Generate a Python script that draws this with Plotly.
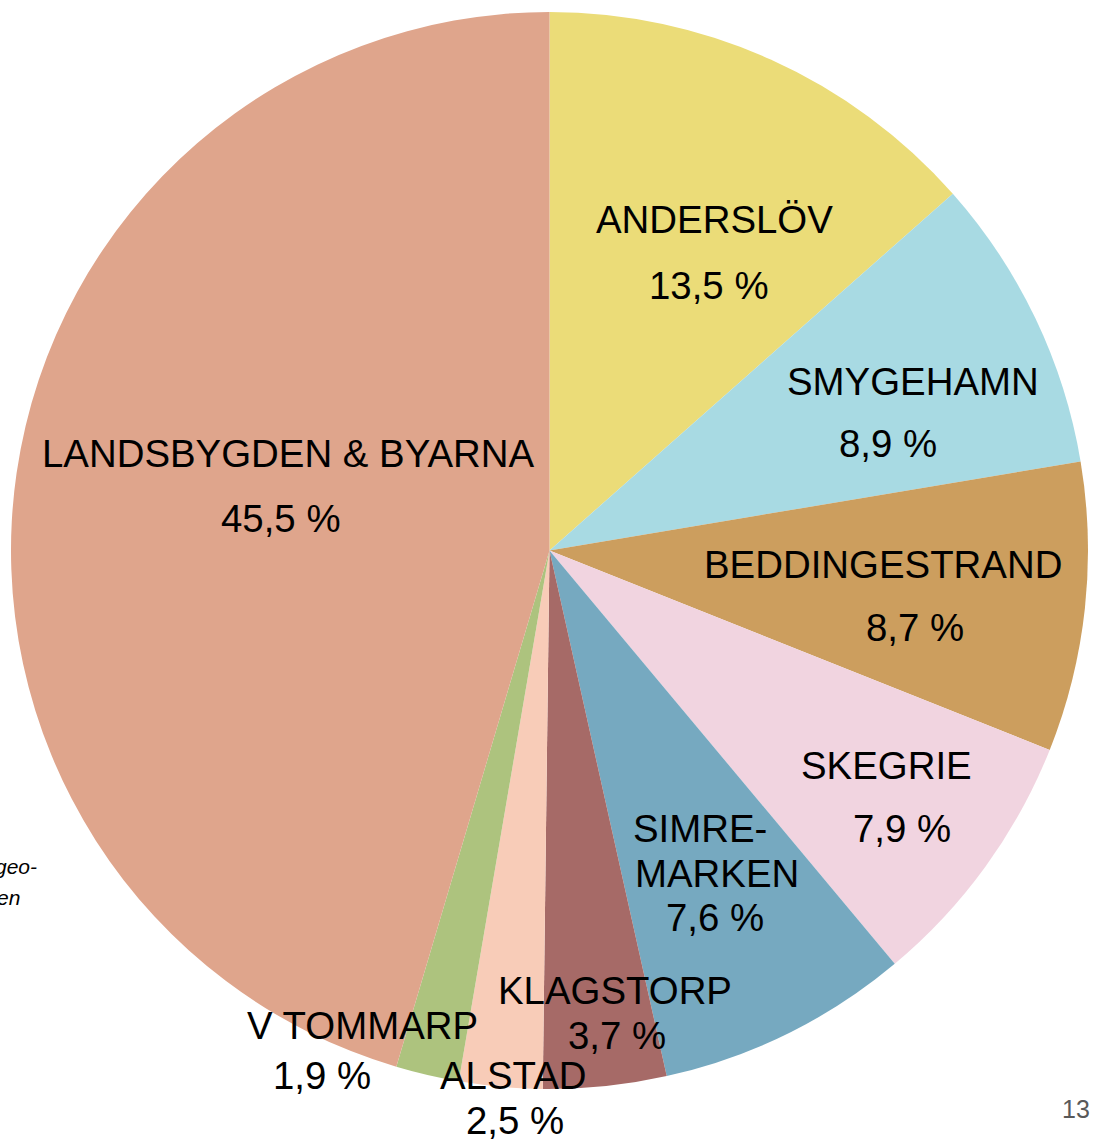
import plotly.graph_objects as go

W, H = 1094, 1140

# Data
categories = ["ANDERSLÖV", "SMYGEHAMN", "BEDDINGESTRAND", "SKEGRIE", "SIMREMARKEN",
              "KLAGSTORP", "ALSTAD", "V TOMMARP", "LANDSBYGDEN & BYARNA"]
values = [13.5, 8.9, 8.7, 7.9, 7.6, 3.7, 2.5, 1.9, 45.5]
colors = ["#EBDC78", "#A8DAE3", "#CC9E5E", "#F1D4E0", "#76A9C0",
          "#A66A67", "#F8CCB8", "#ADC37E", "#DFA58C"]
value_labels = ["13,5 %", "8,9 %", "8,7 %", "7,9 %", "7,6 %", "3,7 %", "2,5 %", "1,9 %", "45,5 %"]

cx, cy, r = 549.5, 550.5, 538.5

fig = go.Figure(go.Pie(
    labels=categories, values=values, sort=False, direction="clockwise", rotation=0,
    marker=dict(colors=colors, line=dict(width=0)), textinfo="none", hoverinfo="label+percent",
    showlegend=False,
    domain=dict(x=[(cx - r) / W, (cx + r) / W], y=[1 - (cy + r) / H, 1 - (cy - r) / H]),
))

def px(x, y):
    return x / W, 1 - y / H

# label positions (pixels) name lines and value lines
label_lines = [
    ("ANDERSLÖV", 714, 220), (value_labels[0], 709, 285),
    ("SMYGEHAMN", 913, 381), (value_labels[1], 888, 443),
    ("BEDDINGESTRAND", 883, 564), (value_labels[2], 915, 627),
    ("SKEGRIE", 886, 765), (value_labels[3], 902, 828),
    ("SIMRE-", 700, 828), ("MARKEN", 717, 873), (value_labels[4], 715, 918),
    ("KLAGSTORP", 615, 990), (value_labels[5], 617, 1035),
    ("ALSTAD", 513, 1075), (value_labels[6], 515, 1120),
    ("V TOMMARP", 362, 1025), (value_labels[7], 322, 1075),
    ("LANDSBYGDEN & BYARNA", 288, 453), (value_labels[8], 281, 518),
]
ann = []
for t, x, y in label_lines:
    xx, yy = px(x, y)
    ann.append(dict(text=t, x=xx, y=yy, xref="paper", yref="paper", showarrow=False,
                    xanchor="center", yanchor="middle",
                    font=dict(family="Liberation Sans, Arial", size=38.4, color="#000000")))

xx, yy = px(1076, 1109)
ann.append(dict(text="13", x=xx, y=yy, xref="paper", yref="paper", showarrow=False,
                xanchor="center", yanchor="middle",
                font=dict(family="Liberation Sans, Arial", size=25, color="#595959")))
for t, xr, y in [("geo-", 39, 866), ("en", 22, 897)]:
    xx, yy = px(xr, y)
    ann.append(dict(text="<i>" + t + "</i>", x=xx, y=yy, xref="paper", yref="paper", showarrow=False,
                    xanchor="right", yanchor="middle",
                    font=dict(family="Liberation Sans, Arial", size=21, color="#000000")))

fig.update_layout(width=W, height=H, margin=dict(l=0, r=0, t=0, b=0),
                  paper_bgcolor="white", plot_bgcolor="white", annotations=ann)

fig.write_html("out.html")
